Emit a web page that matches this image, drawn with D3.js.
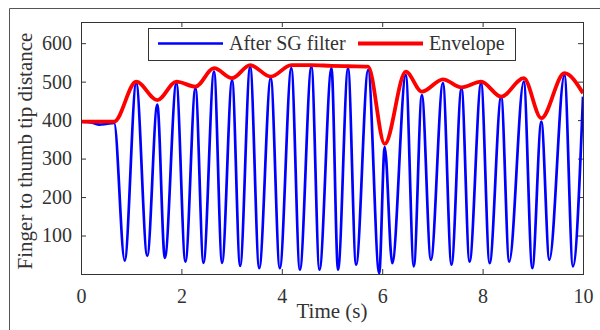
<!DOCTYPE html>
<html>
<head>
<meta charset="utf-8">
<script src="https://cdn.jsdelivr.net/npm/d3@7"></script>
<style>
  html, body { margin: 0; padding: 0; background: #fff; }
  #chart { width: 600px; height: 330px; }
  text { font-family: "Liberation Serif", "Times New Roman", serif; fill: #333; }
</style>
</head>
<body>
<div id="chart"></div>
<script>
// signal after Savitzky-Golay filter (peaks and troughs)
const filteredTime = [0, 0.2, 0.37, 0.5, 0.66, 0.87, 1.10, 1.32, 1.52, 1.67, 1.90, 2.08, 2.28, 2.44, 2.65, 2.81, 3.01, 3.17, 3.37, 3.55, 3.78, 3.96, 4.19, 4.36, 4.59, 4.75, 4.99, 5.12, 5.32, 5.48, 5.72, 5.94, 6.05, 6.20, 6.47, 6.63, 6.79, 6.97, 7.21, 7.38, 7.58, 7.74, 7.97, 8.14, 8.37, 8.53, 8.82, 8.99, 9.17, 9.33, 9.63, 9.80, 10.0];
const filteredDist = [396, 394, 388, 390, 393, 35, 496, 47, 440, 42, 496, 32, 483, 29, 526, 29, 504, 21, 539, 15, 509, 15, 535, 11, 539, 11, 535, 11, 535, 24, 530, 2, 330, 28, 517, 20, 465, 37, 496, 24, 483, 32, 496, 28, 461, 32, 500, 15, 396, 37, 517, 20, 461];

// upper envelope
const envelopeTime = [0, 0.3, 0.66, 1.10, 1.52, 1.90, 2.28, 2.65, 3.01, 3.37, 3.78, 4.19, 4.59, 4.99, 5.32, 5.72, 6.05, 6.47, 6.79, 7.21, 7.58, 7.97, 8.37, 8.82, 9.17, 9.63, 10.0];
const envelopeDist = [396, 396, 396, 500, 452, 500, 487, 535, 509, 543, 513, 543, 543, 541, 540, 539, 338, 526, 474, 506, 485, 500, 461, 509, 405, 522, 470];

const xTicks = [0, 2, 4, 6, 8, 10];
const yTicks = [100, 200, 300, 400, 500, 600];
const legendLabels = ["After SG filter", "Envelope"];

const width = 600, height = 330;
const margin = { top: 22, right: 17, bottom: 56, left: 81 };
const innerWidth = width - margin.left - margin.right;
const innerHeight = height - margin.top - margin.bottom;
const serif = "'Liberation Serif', 'Times New Roman', serif";

const svg = d3.select("#chart")
    .append("svg")
    .attr("width", width)
    .attr("height", height);

// outer figure frame (runs off the right and bottom edges)
svg.append("path")
    .attr("d", `M9.5,${height}V8.5H${width}`)
    .attr("fill", "none")
    .attr("stroke", "#555")
    .attr("stroke-width", 1);

const g = svg.append("g")
    .attr("transform", `translate(${margin.left}, ${margin.top})`);

const x = d3.scaleLinear().domain([0, 10]).range([0, innerWidth]);
const y = d3.scaleLinear().domain([0, 655]).range([innerHeight, 0]);

// axes with inward ticks
const xAxis = g.append("g")
    .attr("transform", `translate(0, ${innerHeight})`)
    .call(d3.axisBottom(x).tickValues(xTicks).tickSizeInner(-5).tickSizeOuter(0).tickPadding(15));
const xTop = g.append("g")
    .call(d3.axisTop(x).tickValues(xTicks).tickSizeInner(-5).tickSizeOuter(0));
const yAxis = g.append("g")
    .call(d3.axisLeft(y).tickValues(yTicks).tickSizeInner(-5).tickSizeOuter(0).tickPadding(9));
const yRight = g.append("g")
    .attr("transform", `translate(${innerWidth}, 0)`)
    .call(d3.axisRight(y).tickValues(yTicks).tickSizeInner(-5).tickSizeOuter(0));

xTop.selectAll("text").remove();
yRight.selectAll("text").remove();

[xAxis, xTop, yAxis, yRight].forEach(a => {
    a.select(".domain").remove();
    a.selectAll(".tick line").attr("stroke", "#333");
    a.selectAll("text")
        .attr("fill", "#3a3a3a")
        .style("font-size", "20px")
        .style("font-family", serif);
});

// clip
g.append("clipPath").attr("id", "plot-clip")
    .append("rect")
    .attr("width", innerWidth).attr("height", innerHeight);

const lineGen = d3.line()
    .x(d => x(d[0]))
    .y(d => y(d[1]))
    .curve(d3.curveMonotoneX);

g.append("path")
    .datum(filteredTime.map((t, i) => [t, filteredDist[i]]))
    .attr("clip-path", "url(#plot-clip)")
    .attr("d", lineGen)
    .attr("fill", "none")
    .attr("stroke", "#0000ff")
    .attr("stroke-width", 2.7);

g.append("path")
    .datum(envelopeTime.map((t, i) => [t, envelopeDist[i]]))
    .attr("clip-path", "url(#plot-clip)")
    .attr("d", lineGen)
    .attr("fill", "none")
    .attr("stroke", "#ff0000")
    .attr("stroke-width", 3.8)
    .attr("stroke-linejoin", "round");

// plot box
g.append("rect")
    .attr("x", 0.5).attr("y", 0.5)
    .attr("width", innerWidth).attr("height", innerHeight)
    .attr("fill", "none")
    .attr("stroke", "#333")
    .attr("stroke-width", 1);

// axis labels
svg.append("text")
    .attr("x", margin.left + innerWidth / 2)
    .attr("y", 318)
    .attr("text-anchor", "middle")
    .style("font-size", "21px")
    .style("font-family", serif)
    .text("Time (s)");

svg.append("text")
    .attr("transform", `translate(32, ${margin.top + innerHeight / 2 + 3}) rotate(-90)`)
    .attr("text-anchor", "middle")
    .style("font-size", "21px")
    .style("font-family", serif)
    .text("Finger to thumb tip distance");

// legend
const legend = svg.append("g");
legend.append("rect")
    .attr("x", 148.5).attr("y", 28.5)
    .attr("width", 367).attr("height", 32)
    .attr("fill", "#fff")
    .attr("stroke", "#333");

const legendItems = [
    { label: legendLabels[0], color: "#0000ff", x: 158, w: 2.7 },
    { label: legendLabels[1], color: "#ff0000", x: 358, w: 3.8 }
];
legendItems.forEach(item => {
    legend.append("line")
        .attr("x1", item.x).attr("x2", item.x + 65)
        .attr("y1", 43.5).attr("y2", 43.5)
        .attr("stroke", item.color)
        .attr("stroke-width", item.w);
    legend.append("text")
        .attr("x", item.x + 71)
        .attr("y", 50)
        .style("font-size", "20px")
        .style("font-family", serif)
        .text(item.label);
});
</script>
</body>
</html>
